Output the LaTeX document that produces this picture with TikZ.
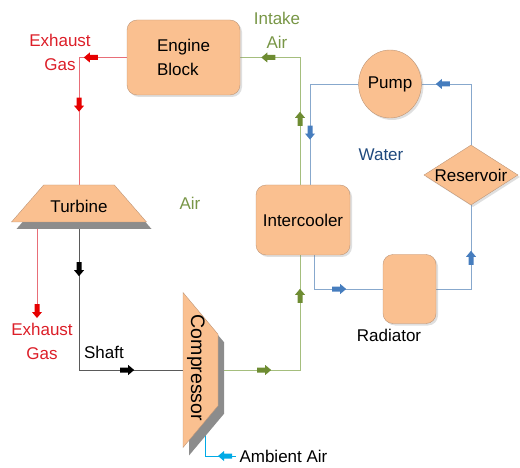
\documentclass[tikz,border=0pt]{standalone}
\usepackage{fontspec}
\setmainfont{Liberation Sans}
\usetikzlibrary{shapes.geometric,decorations.markings,backgrounds,shadows}
\definecolor{partfill}{RGB}{250,192,144}
\definecolor{partedge}{RGB}{190,150,120}
\definecolor{partshadow}{RGB}{140,140,140}
\definecolor{gasred}{RGB}{220,30,40}
\definecolor{gasline}{RGB}{232,110,120}
\definecolor{gastip}{RGB}{230,0,0}
\definecolor{airgreen}{RGB}{120,150,70}
\definecolor{airline}{RGB}{165,190,125}
\definecolor{airtip}{RGB}{110,140,50}
\definecolor{waterline}{RGB}{135,168,205}
\definecolor{watertip}{RGB}{70,125,190}
\definecolor{watertext}{RGB}{31,73,125}
\definecolor{ambientblue}{RGB}{0,170,230}
\definecolor{shaftline}{RGB}{90,90,90}

\newcommand{\flowtip}[1]{\fill[#1] (-8pt,-2.5pt) rectangle (0pt,2.5pt) (0pt,-5pt) -- (6pt,0pt) -- (0pt,5pt) -- cycle;}

\begin{document}
\begin{tikzpicture}[x=1pt, y=-1pt,
    font=\fontsize{17}{24}\selectfont,
    part/.style={draw=partedge, fill=partfill, drop shadow={opacity=0.25, shadow xshift=2pt, shadow yshift=-2pt}},
    partbox/.style={part, rounded corners=10pt},
    turbshape/.style={trapezium, trapezium left angle=49, trapezium right angle=49, trapezium stretches body=true, minimum width=135pt, inner sep=0pt, text height=28pt, text depth=9pt},
    compshape/.style={trapezium, trapezium left angle=40, trapezium right angle=40, trapezium stretches body=true, minimum width=155pt, inner sep=0pt, text height=17.5pt, text depth=17.5pt, rotate=-90},
    tips/.style={postaction={decorate, decoration={markings, #1}}}
]
\useasboundingbox (0,0) rectangle (520,468);

% === Components ===
\node[partbox, minimum width=113pt, minimum height=75pt, align=left] (engine) at (183.5,57.5) {Engine\\Block};

\node[turbshape, fill=partshadow] (turbShadow) at (84,210.5) {};
\node[turbshape, draw=partedge, fill=partfill] (turbine) at (79,203.5) {Turbine};

\node[compshape, fill=partshadow] (compShadow) at (206.5,378) {};
\node[compshape, draw=partedge, fill=partfill] (compressor) at (200.5,370) {};
\node[rotate=-90, font=\fontsize{19.5}{22}\selectfont] (compText) at (196,368) {Compressor};

\node[partbox, minimum width=94pt, minimum height=70pt] (intercooler) at (303,220) {Intercooler};
\node[part, ellipse, minimum width=60pt, minimum height=68pt, inner sep=0pt] (pump) at (390,84) {Pump};
\node[part, diamond, aspect=1.57, minimum width=94pt, minimum height=60pt, inner sep=0pt] (reservoir) at (471,175) {};
\node (resText) at (reservoir.center) {Reservoir};
\node[partbox, minimum width=53pt, minimum height=69pt] (radiator) at (409.5,289) {};

% === Labels ===
\node[text=gasred, align=center] (gasTop) at (60,52) {Exhaust\\Gas};
\node[text=gasred, align=center] (gasBot) at (42,341) {Exhaust\\Gas};
\node[text=airgreen, align=center] (intake) at (277,30) {Intake\\Air};
\node[text=airgreen] (airLabel) at (190,203) {Air};
\node (shaftLabel) at (104,352) {Shaft};
\node[text=watertext] (waterLabel) at (381,155) {Water};
\node (radLabel) at (389,335) {Radiator};
\node[anchor=west] (ambient) at (236,456) {Ambient Air};

\coordinate (gasEnd) at (37,312);
\coordinate (ambientIn) at (205,428);

% === Flow lines ===
\begin{scope}[on background layer]
% exhaust gas
\draw[gasline, tips={mark=at position 37pt with {\flowtip{gastip}}, mark=at position 96pt with {\flowtip{gastip}}}]
    (engine.west) -| (turbine.north);
\draw[gasline, tips={mark=at position 1 with {\flowtip{gastip}}}]
    (turbine.south -| gasEnd) -- (gasEnd);

% shaft
\draw[shaftline, tips={mark=at position 48pt with {\flowtip{black}}, mark=at position 197pt with {\flowtip{black}}}]
    (turbine.south) |- (compressor.south);

% charge air
\draw[airline, tips={mark=at position 47pt with {\flowtip{airtip}}, mark=at position 157pt with {\flowtip{airtip}}, mark=at position 334pt with {\flowtip{airtip}}, mark=at position 427pt with {\flowtip{airtip}}}]
    (compressor.north) -- (300,370) -- (300,57.5) -- (engine.east);
\draw[ambientblue, tips={mark=at position 12pt with {\flowtip{ambientblue}}}]
    (ambient.west) -| (ambientIn);

% cooling water
\draw[waterline, tips={mark=at position 98pt with {\flowtip{watertip}}}]
    (pump.west) -| ([xshift=7pt]intercooler.north);
\draw[waterline, tips={mark=at position 90pt with {\flowtip{watertip}}}]
    (reservoir.north) |- (pump.east);
\draw[waterline, tips={mark=at position 67pt with {\flowtip{watertip}}}]
    (radiator.east) -| (reservoir.south);
\draw[waterline, tips={mark=at position 60pt with {\flowtip{watertip}}}]
    ([xshift=11pt]intercooler.south) |- (radiator.west);
\end{scope}

\end{tikzpicture}
\end{document}
